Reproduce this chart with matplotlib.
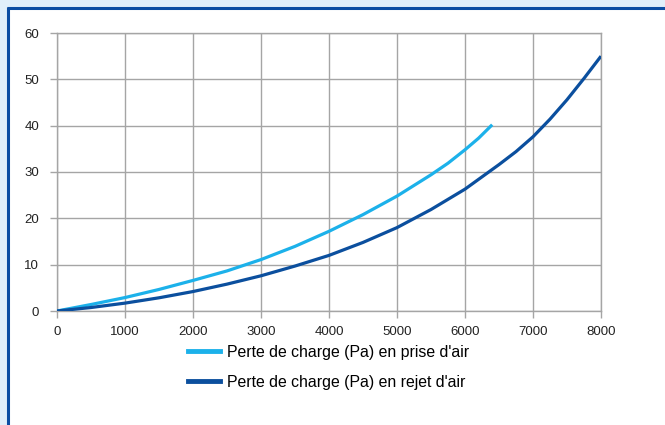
import numpy as np
import matplotlib.pyplot as plt
from matplotlib.patches import Rectangle
from matplotlib.lines import Line2D

plt.rcParams['font.family'] = ['Liberation Sans', 'DejaVu Sans']

# debit d'air (m3/h) et perte de charge (Pa)
x_prise = [0, 500, 1000, 1500, 2000, 2500, 3000, 3500, 4000, 4500, 5000, 5500, 5750, 6000, 6200, 6400]
y_prise = [0, 1.4, 2.9, 4.65, 6.6, 8.65, 11.1, 13.95, 17.2, 20.8, 24.8, 29.4, 31.9, 34.8, 37.3, 40.2]
x_rejet = [0, 500, 1000, 1500, 2000, 2500, 3000, 3500, 4000, 4500, 5000, 5500, 6000, 6500,
           6750, 7000, 7250, 7500, 7750, 8000]
y_rejet = [0, 0.75, 1.7, 2.85, 4.2, 5.8, 7.6, 9.7, 12.0, 14.8, 18.0, 21.9, 26.3, 31.6,
           34.4, 37.6, 41.4, 45.6, 50.2, 55.0]
labels = ["Perte de charge (Pa) en prise d'air", "Perte de charge (Pa) en rejet d'air"]
xticks = [0, 1000, 2000, 3000, 4000, 5000, 6000, 7000, 8000]
yticks = [0, 10, 20, 30, 40, 50, 60]

c_light = '#1cb1ea'
c_dark = '#0b4f9e'
c_grid = '#a5a5a5'

fig = plt.figure(figsize=(6.65, 4.25), dpi=100, facecolor='#e0f0fa')

# cadre blanc avec bord bleu en haut et a gauche
fig.patches.append(Rectangle((9/665, 0), 1, 1 - 9/425, transform=fig.transFigure,
                             facecolor='white', edgecolor='none', zorder=-5))
fig.add_artist(Line2D([8/665, 8/665], [0, 1 - 7/425], transform=fig.transFigure,
                      color='#0b4ea2', lw=2.2, solid_capstyle='butt'))
fig.add_artist(Line2D([7/665, 1], [1 - 8/425, 1 - 8/425], transform=fig.transFigure,
                      color='#0b4ea2', lw=2.2, solid_capstyle='butt'))

ax = fig.add_axes([57/665, 1 - 311/425, 544/665, 278/425])
ax.set_zorder(2)
ax.set_facecolor('white')
ax.plot(x_prise, y_prise, color=c_light, lw=2.3, solid_capstyle='butt',
        solid_joinstyle='round', zorder=3)
ax.plot(x_rejet, y_rejet, color=c_dark, lw=2.3, solid_capstyle='butt',
        solid_joinstyle='round', zorder=3)

ax.set_xlim(0, 8000)
ax.set_ylim(0, 60)
ax.set_xticks(xticks)
ax.set_yticks(yticks)
ax.grid(True, color=c_grid, lw=1)
for s in ax.spines.values():
    s.set_color(c_grid)
    s.set_linewidth(1)
ax.tick_params(colors=c_grid, length=5, width=1, labelcolor='#222222', labelsize=9.5)
ax.tick_params(axis='y', pad=8)
ax.tick_params(axis='x', pad=6)

handles = [Line2D([], [], color=c_light, lw=3.5), Line2D([], [], color=c_dark, lw=3.5)]
fig.legend(handles, labels, loc='upper left', bbox_to_anchor=(188/665, 1 - 345/425),
           frameon=False, fontsize=11.4, handlelength=2.0, handletextpad=0.45,
           labelspacing=0.92, borderpad=0, borderaxespad=0)

fig.savefig('out.png', dpi=100, facecolor=fig.get_facecolor())
